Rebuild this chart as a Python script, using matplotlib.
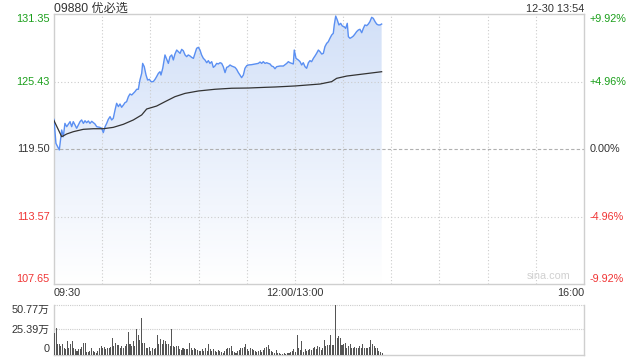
import numpy as np
import matplotlib
matplotlib.use("Agg")
import matplotlib.pyplot as plt
from matplotlib.colors import LinearSegmentedColormap

plt.rcParams['font.family'] = ['Liberation Sans', 'Noto Sans CJK SC', 'DejaVu Sans']

# ---- data ----
title = "09880 优必选"
stamp = "12-30 13:54"
prev_close = 119.50
y_ticks = [107.65, 113.57, 119.50, 125.43, 131.35]
pct_labels = ["-9.92%", "-4.96%", "0.00%", "+4.96%", "+9.92%"]
x_tick_labels = ["09:30", "12:00/13:00", "16:00"]
x_tick_pos = [0, 150, 330]   # minutes of trading after 09:30

price_t = [0, 1.2, 3.3, 4.8, 5.8, 6.8, 7.9, 10.0, 11.0, 12.0, 13.1, 14.1, 16.2, 17.2, 18.3,
           19.3, 20.3, 21.4, 22.4, 23.5, 24.5, 25.5, 26.6, 28.6, 29.7, 30.7, 31.8, 32.8, 33.8,
           34.9, 35.9, 36.9, 38.0, 39.0, 40.1, 41.1, 42.1, 43.2, 44.2, 45.2, 46.3, 47.3, 48.4,
           49.4, 50.4, 51.5, 52.5, 53.5, 54.6, 55.2, 56.2, 57.3, 58.3, 59.4, 60.4, 61.8, 62.9,
           63.9, 65.0, 66.0, 66.6, 67.7,
           69.1, 71.2, 72.2, 73.3, 74.3, 75.3, 76.4, 77.4, 78.5, 79.5, 80.5, 81.6, 82.6, 83.6,
           84.7, 85.7, 86.8, 87.8, 88.8, 89.9, 90.9, 91.9, 93.0, 94.0, 95.1, 96.1, 97.1, 98.2,
           99.2, 100.2, 101.3, 102.3, 103.4, 104.4, 105.4, 106.5, 107.5, 108.5, 109.6, 110.6,
           111.7, 112.7, 113.7, 114.8, 115.8, 116.8, 117.9, 118.9, 120.0, 121.0, 123.1, 125.2,
           127.2, 128.3, 129.3, 130.3, 131.4, 132.4, 133.4, 134.5, 135.5, 136.6, 137.6,
           138.6, 140.7, 142.8, 144.9, 145.9, 146.9, 148.0, 149.0, 149.6, 150.7, 152.1, 153.2,
           154.2, 155.2, 156.3, 157.3, 158.4, 159.4, 160.4, 161.5, 162.5, 163.5, 164.6, 165.6,
           166.7, 167.7, 168.7, 169.8, 170.8, 171.8, 172.9, 173.9, 174.5, 175.4, 176.4, 177.4,
           178.5, 179.5, 180.6, 181.6, 182.6, 183.3, 184.3, 185.3, 186.4, 187.4, 188.4, 189.5,
           190.5, 191.6, 192.6, 193.6, 194.7, 195.7, 196.7, 197.8, 198.8, 199.9, 200.9, 201.9,
           203.0, 204.0]
price_v = [122.11, 120.01, 119.43, 121.18, 120.59, 121.76, 121.47, 121.91, 121.47, 121.91,
           121.62, 121.33, 121.91, 122.06, 121.76, 121.99, 121.82, 121.97, 121.76, 121.94,
           121.82, 121.71, 121.47, 121.41, 121.33, 120.95, 121.47, 121.76, 122.11, 122.35,
           122.06, 122.20, 122.93, 123.52, 123.23, 123.46, 123.17, 123.37, 123.58, 123.66,
           124.10, 124.34, 124.25, 124.39, 124.54, 124.75, 124.75, 125.56, 126.15, 127.02,
           126.73, 126.00, 125.56, 125.62, 125.42, 125.42, 125.62, 125.86, 126.15, 126.29,
           126.00, 126.59,
           127.76, 127.02, 127.61, 127.76, 127.32, 127.84, 128.19, 128.05, 127.90, 128.25,
           128.13, 127.76, 127.61, 127.76, 127.67, 127.55, 127.46, 127.90, 128.34, 128.43,
           128.19, 127.76, 127.46, 127.32, 127.08, 127.26, 127.02, 127.17, 126.67, 126.79,
           127.02, 126.97, 127.08, 127.02, 126.73, 126.21, 126.67, 126.73, 126.88, 126.79,
           126.73, 126.67, 126.50, 126.21, 126.00, 125.77, 126.00, 126.59, 126.82, 126.88,
           126.91, 126.97, 127.02, 127.14, 127.02, 127.17, 127.02, 127.08, 127.02, 126.97,
           126.79, 126.73, 126.55,
           126.73, 126.79, 126.79, 127.02, 127.17, 127.08, 127.02, 126.97, 128.19, 127.46,
           127.32, 127.17, 126.88, 127.08, 126.73, 126.59, 127.08, 127.26, 127.17, 127.46,
           127.67, 127.90, 128.19, 128.05, 127.84, 127.90, 128.49, 128.78, 128.92, 129.22,
           129.51, 129.66, 130.39, 131.17, 130.82, 130.39, 130.53, 130.30, 130.24, 130.09,
           130.53, 129.36, 129.22, 129.30, 129.42, 129.60, 129.80, 129.95, 130.01, 129.71,
           130.09, 130.39, 130.33, 130.47, 130.68, 131.06, 130.97, 130.68, 130.47, 130.39,
           130.39, 130.47]

avg_t = [0, 4.8, 7.9, 12.0, 18.3, 24.5, 30.7, 36.9, 43.2, 49.4, 54.6, 57.7, 63.9, 69.1,
         75.3, 81.6, 89.9, 100.2, 110.6, 121.0, 131.4, 137.6, 150.1, 165.6, 172.9, 176.0,
         182.3, 192.6, 204.0]
avg_v = [122.00, 120.59, 120.83, 121.03, 121.24, 121.29, 121.29, 121.41, 121.68, 122.06,
         122.50, 123.02, 123.28, 123.66, 124.10, 124.39, 124.60, 124.75, 124.84, 124.86,
         124.92, 124.95, 125.04, 125.21, 125.42, 125.71, 125.91, 126.09, 126.29]

vol_ticks = [0, 25.39, 50.77]
vol_labels = ["0", "25.39万", "50.77万"]
volume = [22.0, 27.1, 10.2, 10.2, 8.5, 10.2, 6.1, 5.1, 13.5, 6.8, 10.2, 13.5, 6.8, 5.1, 3.4,
          5.1, 5.1, 7.4, 11.8, 11.8, 2.4, 2.4, 3.4, 6.1, 3.4, 2.7, 2.0, 3.4, 6.8, 8.5, 6.8,
          7.4, 5.1, 6.8, 6.1, 7.4, 16.9, 8.5, 11.8, 9.5, 9.5, 6.1, 8.5, 6.8, 8.5, 10.2, 23.0,
          10.2, 8.5, 13.5, 8.5, 25.4, 20.3, 15.2, 36.6, 11.8, 11.8, 6.8, 6.1, 7.4, 3.4, 6.8,
          5.1, 6.8, 20.3, 10.2, 16.2, 10.2, 15.2, 13.5, 10.2, 10.8, 8.5, 25.4, 8.5, 7.4, 8.5,
          8.5, 5.1, 4.1, 6.1, 5.1, 5.1, 5.1, 11.8, 6.8, 4.1, 6.8, 5.1, 4.1, 3.4, 3.4, 5.1,
          3.4, 6.8, 3.4, 10.8, 5.1, 3.4, 5.1, 4.0, 3.0, 5.0,
          3.4, 2.7, 1.7, 3.4, 5.1, 6.1, 6.8, 8.5, 3.4, 2.7, 1.7, 3.4, 4.1, 6.1, 6.8, 7.4,
          10.8, 5.1, 3.4, 6.8, 5.1, 4.1, 3.4, 2.7, 3.4, 4.1, 2.7, 4.1, 6.8, 7.4, 9.5, 5.1,
          3.4, 2.7, 1.7, 4.1, 1.7, 1.4, 0.7, 0.7, 1.7, 0.7, 1.7, 1.7, 2.7, 3.4, 5.1, 2.7,
          20.3, 6.8, 4.1, 13.5, 2.7, 5.1, 3.4, 4.1, 5.1, 4.1, 6.1, 7.4, 5.1, 8.5, 7.4, 4.1,
          6.8, 15.2, 8.5, 9.5, 9.5, 19.6, 9.5, 9.5, 50.77, 16.9, 18.6, 16.9, 9.5, 10.2, 11.8,
          6.8, 8.5, 10.2, 6.1, 6.8, 7.4, 6.1, 6.8, 8.5, 6.8, 10.2, 6.1, 6.8, 6.1, 7.4, 15.2,
          10.2, 8.5, 6.8, 6.1, 3.4, 2.7, 2.0]

# ---- colors ----
GREEN = '#1a9f1a'
RED = '#f03434'
DARK = '#333333'
GRID = '#cccccc'
BORDER = '#cfcfcf'
LINE = '#5a8ff2'

fig = plt.figure(figsize=(6.4, 3.6), dpi=100)
ax = fig.add_axes([54/640, 1-284.3/360, 530/640, 270.3/360])
axv = fig.add_axes([54/640, 1-354.5/360, 530/640, 50/360])

ylo, yhi = y_ticks[0], y_ticks[-1]
ax.set_xlim(0, 330)
ax.set_ylim(ylo, yhi)

# gradient fill under price
cmap = LinearSegmentedColormap.from_list('g', ['#ffffff', '#d2e0f8'])
grad = np.linspace(0, 1, 256).reshape(-1, 1)
im = ax.imshow(grad, extent=[0, 330, ylo, yhi], origin='lower', aspect='auto',
               cmap=cmap, zorder=1, interpolation='bilinear')
poly = ax.fill_between(price_t, price_v, ylo, facecolor='none', edgecolor='none')
im.set_clip_path(poly.get_paths()[0], transform=ax.transData)

# grid
for xv in range(30, 330, 30):
    ax.axvline(xv, color=GRID, lw=0.8, ls=(0, (1, 2)), zorder=2)
for yv in y_ticks[1:-1]:
    if yv == prev_close:
        ax.axhline(yv, color='#b0b0b0', lw=0.8, ls=(0, (3, 2)), zorder=2)
    else:
        ax.axhline(yv, color=GRID, lw=0.8, ls=(0, (1, 2)), zorder=2)

ax.plot(price_t, price_v, color=LINE, lw=1.0, zorder=4)
ax.plot(avg_t, avg_v, color=DARK, lw=0.9, zorder=4)

for s in ax.spines.values():
    s.set_color(BORDER)
    s.set_linewidth(1)
ax.set_xticks([])
ax.set_yticks(y_ticks)
ax.set_yticklabels([f"{v:.2f}" for v in y_ticks], fontsize=7.8)
ax.tick_params(axis='y', length=0, pad=3)
lbl_colors = [RED, RED, DARK, GREEN, GREEN]
vas = ['bottom', 'center', 'center', 'center', 'top']
for lab, c, va in zip(ax.get_yticklabels(), lbl_colors, vas):
    lab.set_color(c)
    lab.set_va(va)

axr = ax.twinx()
axr.set_ylim(ylo, yhi)
axr.set_yticks(y_ticks)
axr.set_yticklabels(pct_labels, fontsize=7.8)
axr.tick_params(axis='y', length=0, pad=4)
for s in axr.spines.values():
    s.set_visible(False)
for lab, c, va in zip(axr.get_yticklabels(), lbl_colors, vas):
    lab.set_color(c)
    lab.set_va(va)

# x labels
has = ['left', 'center', 'right']
for pos, txt, ha in zip(x_tick_pos, x_tick_labels, has):
    ax.annotate(txt, xy=(pos, 0), xycoords=('data', 'axes fraction'),
                xytext=(0, -3), textcoords='offset points', ha=ha, va='top',
                fontsize=7.8, color=DARK)

# title and timestamp
ax.annotate(title, xy=(0, 1), xycoords='axes fraction', xytext=(0, 1.7),
            textcoords='offset points', ha='left', va='baseline',
            fontsize=8.7, color=DARK)
ax.annotate(stamp, xy=(1, 1), xycoords='axes fraction', xytext=(0, 1.7),
            textcoords='offset points', ha='right', va='baseline',
            fontsize=7.8, color=DARK)
ax.text(0.975, 0.012, "sina.com", transform=ax.transAxes, ha='right', va='bottom',
        fontsize=7.8, color='#d0d0d0')

# volume
axv.set_xlim(0, 330)
axv.set_ylim(0, vol_ticks[-1])
axv.bar(np.arange(len(volume)), volume, width=0.65, color='#555555', zorder=3,
        align='edge')
axv.axhline(vol_ticks[1], color=GRID, lw=0.8, ls=(0, (1, 1)), zorder=1)
axv.axhline(vol_ticks[2], color=GRID, lw=0.8, ls=(0, (1, 1)), zorder=1, clip_on=False)
axv.spines['top'].set_visible(False)
for k in ['left', 'right', 'bottom']:
    axv.spines[k].set_color(BORDER)
    axv.spines[k].set_linewidth(1)
axv.set_xticks([])
axv.set_yticks(vol_ticks)
axv.set_yticklabels(vol_labels, fontsize=7.8, color=DARK)
axv.tick_params(axis='y', length=0, pad=3)
for lab, va in zip(axv.get_yticklabels(), ['bottom', 'center', 'top']):
    lab.set_va(va)

fig.savefig("out.png", dpi=100)
